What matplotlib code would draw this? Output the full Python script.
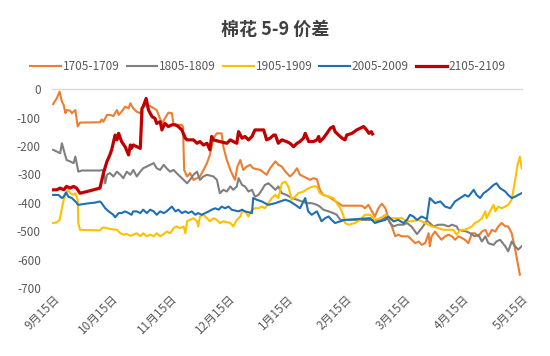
import matplotlib
matplotlib.use('Agg')
import matplotlib.pyplot as plt

plt.rcParams['font.family'] = ['Noto Sans CJK SC', 'DejaVu Sans']
plt.rcParams['axes.unicode_minus'] = False

# 月份位置: 0 = 9月15日 ... 8 = 5月15日
month_labels = ['9月15日', '10月15日', '11月15日', '12月15日', '1月15日',
                '2月15日', '3月15日', '4月15日', '5月15日']

x_1705 = [0.0, 0.06, 0.11, 0.15, 0.18, 0.21, 0.23, 0.29, 0.32, 0.38, 0.42, 0.46, 0.8, 0.83, 0.86,
          0.92, 0.97, 1.03, 1.09, 1.12, 1.17, 1.23, 1.29, 1.32, 1.37, 1.43, 1.49, 1.54, 1.66, 1.77,
          1.86, 1.97, 2.03, 2.06, 2.2, 2.22, 2.24, 2.29, 2.34, 2.4, 2.46, 2.51, 2.57, 2.63, 2.68,
          2.74, 2.8, 2.88, 2.91, 2.97, 3.03, 3.08, 3.11, 3.15, 3.2, 3.25, 3.31, 3.37, 3.42, 3.54,
          3.65, 3.71, 3.8, 3.85, 3.91, 3.97, 4.05, 4.11, 4.17, 4.22, 4.28, 4.34, 4.39, 4.45, 4.51,
          4.56, 4.62, 4.71, 4.79, 4.88, 4.94, 5.28, 5.33, 5.39, 5.45, 5.5, 5.56, 5.62, 5.68, 5.73,
          5.79, 5.85, 5.9, 5.96, 6.07, 6.13, 6.19, 6.25, 6.3, 6.36, 6.42, 6.44, 6.47, 6.53, 6.59,
          6.64, 6.7, 6.76, 6.82, 6.87, 6.93, 6.99, 7.04, 7.1, 7.16, 7.21, 7.27, 7.33, 7.39, 7.44,
          7.5, 7.56, 7.61, 7.67, 7.73, 7.78, 7.84, 7.9, 7.98]
y_1705 = [-52, -32, -8, -43, -55, -84, -73, -75, -84, -73, -131, -117, -116, -106, -114,
          -90, -90, -94, -73, -90, -79, -61, -67, -49, -67, -79, -84, -55, -59, -73,
          -120, -82, -84, -125, -125, -131, -284, -307, -295, -319, -313, -307, -284, -260, -231,
          -172, -155, -155, -202, -249, -284, -307, -319, -272, -249, -284, -272, -266, -278, -284,
          -301, -278, -254, -266, -272, -290, -307, -295, -278, -301, -307, -313, -319, -313, -317,
          -354, -372, -378, -389, -401, -410, -410, -419, -407, -430, -448, -419, -403, -419, -454,
          -483, -518, -512, -518, -518, -530, -542, -536, -548, -542, -507, -553, -518, -501, -518,
          -530, -518, -512, -518, -530, -518, -524, -530, -542, -507, -507, -518, -501, -495, -518,
          -495, -501, -483, -471, -483, -483, -507, -565, -653]

x_1805 = [0.0, 0.06, 0.12, 0.15, 0.18, 0.23, 0.29, 0.35, 0.38, 0.43, 0.49, 0.8, 0.86, 0.89, 0.92,
          0.97, 1.03, 1.09, 1.15, 1.2, 1.26, 1.32, 1.37, 1.43, 1.49, 1.54, 1.6, 1.66, 1.72, 1.77,
          1.83, 1.89, 1.94, 2.0, 2.06, 2.11, 2.17, 2.23, 2.29, 2.34, 2.4, 2.46, 2.51, 2.57, 2.63,
          2.74, 2.8, 2.85, 2.91, 2.97, 3.03, 3.08, 3.14, 3.17, 3.23, 3.28, 3.34, 3.4, 3.45, 3.51,
          3.57, 3.62, 3.68, 3.74, 3.8, 3.85, 3.91, 3.99, 4.08, 4.17, 4.25, 4.34, 4.42, 4.51, 4.56,
          4.62, 4.71, 4.79, 4.85, 4.91, 5.5, 5.53, 5.62, 5.7, 5.76, 5.82, 5.9, 5.99, 6.05, 6.13,
          6.22, 6.3, 6.39, 6.44, 6.5, 6.59, 6.67, 6.76, 6.82, 6.9, 6.93, 7.07, 7.13, 7.21, 7.27,
          7.33, 7.39, 7.44, 7.53, 7.58, 7.64, 7.73, 7.78, 7.84, 7.9, 7.95, 8.01]
y_1805 = [-213, -219, -225, -190, -213, -249, -254, -260, -237, -290, -286, -286, -284, -331, -301,
          -295, -307, -290, -301, -313, -290, -301, -284, -307, -290, -278, -272, -266, -260, -278,
          -284, -266, -278, -290, -284, -295, -307, -319, -331, -319, -301, -290, -319, -307, -301,
          -307, -319, -366, -354, -360, -342, -354, -342, -313, -337, -342, -360, -354, -378, -372,
          -354, -337, -331, -342, -354, -342, -366, -372, -383, -389, -395, -401, -401, -407, -413,
          -424, -430, -436, -442, -460, -460, -465, -460, -448, -471, -483, -477, -477, -471, -484,
          -510, -490, -462, -471, -483, -477, -477, -483, -477, -483, -495, -501, -507, -518, -512,
          -536, -518, -542, -548, -536, -530, -553, -571, -536, -553, -565, -553]

x_1905 = [0.0, 0.06, 0.11, 0.15, 0.18, 0.22, 0.26, 0.29, 0.35, 0.38, 0.42, 0.43, 0.46, 0.8, 0.83,
          0.86, 0.92, 0.97, 1.09, 1.15, 1.2, 1.26, 1.32, 1.37, 1.43, 1.49, 1.54, 1.6, 1.66, 1.72,
          1.77, 1.83, 1.89, 1.94, 2.0, 2.06, 2.11, 2.17, 2.23, 2.26, 2.29, 2.34, 2.4, 2.46, 2.48,
          2.51, 2.57, 2.63, 2.68, 2.74, 2.8, 2.85, 2.91, 3.03, 3.08, 3.14, 3.2, 3.23, 3.28, 3.34,
          3.4, 3.45, 3.51, 3.57, 3.62, 3.68, 3.74, 3.8, 3.85, 3.91, 3.97, 4.02, 4.08, 4.14, 4.19,
          4.28, 4.37, 4.45, 4.51, 4.56, 4.62, 4.71, 4.79, 4.85, 4.91, 4.96, 4.99, 5.05, 5.16, 5.25,
          5.33, 5.42, 5.5, 5.59, 5.68, 5.76, 5.96, 6.05, 6.13, 6.25, 6.36, 6.47, 6.59, 6.67, 6.84,
          6.9, 6.96, 7.04, 7.1, 7.16, 7.21, 7.27, 7.33, 7.39, 7.41, 7.47, 7.53, 7.56, 7.61, 7.67,
          7.73, 7.78, 7.84, 7.87, 7.9, 7.94, 7.98, 8.01]
y_1905 = [-471, -469, -460, -419, -389, -366, -354, -366, -372, -366, -389, -471, -495, -497, -489,
          -487, -489, -492, -495, -507, -512, -510, -516, -512, -507, -518, -507, -518, -512, -518,
          -507, -518, -510, -501, -507, -489, -483, -489, -483, -507, -465, -460, -454, -465, -483,
          -448, -442, -454, -465, -454, -460, -471, -465, -471, -483, -460, -448, -430, -430, -448,
          -424, -419, -419, -413, -419, -401, -383, -372, -383, -331, -325, -342, -389, -378, -366,
          -360, -348, -342, -342, -366, -372, -378, -383, -401, -419, -442, -471, -477, -471, -460,
          -442, -442, -460, -454, -442, -454, -454, -465, -465, -460, -471, -483, -489, -495, -495,
          -512, -495, -495, -489, -483, -471, -465, -454, -430, -454, -430, -407, -430, -413, -419,
          -413, -407, -389, -354, -319, -266, -237, -278]

x_2005 = [0.0, 0.09, 0.15, 0.18, 0.22, 0.26, 0.32, 0.38, 0.43, 0.52, 0.63, 0.72, 0.8, 0.83, 0.89,
          0.95, 1.03, 1.06, 1.12, 1.17, 1.23, 1.29, 1.34, 1.37, 1.43, 1.49, 1.54, 1.6, 1.66, 1.72,
          1.77, 1.83, 1.89, 1.94, 2.03, 2.09, 2.14, 2.2, 2.26, 2.31, 2.37, 2.43, 2.48, 2.54, 2.6,
          2.66, 2.71, 2.77, 2.83, 2.88, 2.94, 3.0, 3.05, 3.17, 3.23, 3.28, 3.4, 3.42, 3.48, 3.57,
          3.62, 3.68, 3.8, 3.88, 3.97, 4.05, 4.14, 4.22, 4.31, 4.36, 4.42, 4.51, 4.59, 4.65, 4.71,
          4.76, 4.82, 4.91, 4.99, 5.42, 5.5, 5.59, 5.68, 5.73, 5.82, 5.9, 5.99, 6.05, 6.1, 6.16,
          6.22, 6.3, 6.39, 6.44, 6.53, 6.62, 6.7, 6.79, 6.87, 6.96, 7.04, 7.1, 7.19, 7.24, 7.3,
          7.36, 7.44, 7.53, 7.58, 7.64, 7.73, 7.78, 7.84, 7.9, 7.95, 8.01]
y_2005 = [-372, -372, -383, -378, -363, -378, -383, -395, -407, -404, -401, -399, -395, -401, -419,
          -430, -442, -451, -436, -436, -430, -436, -442, -430, -430, -436, -424, -436, -424, -430,
          -442, -430, -436, -430, -413, -430, -424, -436, -430, -436, -430, -442, -436, -442, -436,
          -430, -424, -419, -424, -413, -419, -413, -424, -430, -424, -430, -436, -383, -389, -395,
          -401, -407, -401, -395, -389, -395, -407, -419, -383, -430, -442, -430, -465, -454, -448,
          -460, -471, -465, -460, -454, -471, -465, -460, -448, -465, -460, -471, -460, -442, -448,
          -460, -448, -457, -383, -401, -395, -413, -419, -395, -383, -372, -378, -354, -372, -383,
          -366, -354, -337, -331, -348, -360, -372, -383, -378, -372, -366]

x_2105 = [0.0, 0.06, 0.12, 0.18, 0.23, 0.29, 0.35, 0.4, 0.46, 0.58, 0.69, 0.8, 0.86, 0.92, 0.97,
          1.0, 1.06, 1.09, 1.12, 1.17, 1.23, 1.29, 1.32, 1.34, 1.37, 1.43, 1.49, 1.52, 1.54, 1.59,
          1.63, 1.69, 1.74, 1.77, 1.83, 1.86, 1.91, 1.97, 2.03, 2.09, 2.14, 2.2, 2.26, 2.29, 2.4,
          2.46, 2.51, 2.57, 2.63, 2.68, 2.71, 2.74, 2.85, 2.97, 3.03, 3.08, 3.14, 3.17, 3.23, 3.28,
          3.34, 3.4, 3.45, 3.6, 3.65, 3.71, 3.77, 3.8, 3.85, 3.91, 3.99, 4.05, 4.11, 4.17, 4.22,
          4.28, 4.31, 4.37, 4.45, 4.51, 4.54, 4.56, 4.62, 4.68, 4.74, 4.79, 4.82, 4.88, 4.94, 4.99,
          5.02, 5.11, 5.19, 5.31, 5.36, 5.4, 5.44, 5.46]
y_2105 = [-354, -354, -348, -354, -342, -348, -342, -348, -366, -360, -354, -348, -295, -254, -231,
          -213, -161, -178, -155, -184, -202, -231, -196, -208, -196, -202, -208, -67, -61, -32,
          -73, -96, -102, -120, -114, -143, -120, -131, -125, -125, -131, -143, -172, -178, -178,
          -190, -184, -196, -190, -213, -166, -178, -184, -190, -178, -184, -190, -149, -172, -166,
          -178, -166, -143, -143, -178, -172, -161, -161, -190, -178, -184, -190, -202, -190, -184,
          -172, -155, -184, -184, -178, -166, -184, -172, -155, -137, -131, -149, -161, -172, -178,
          -161, -155, -143, -131, -143, -155, -149, -157]

series = [
    ('1705-1709', x_1705, y_1705, '#ED7D31', 1.5),
    ('1805-1809', x_1805, y_1805, '#7F7F7F', 1.5),
    ('1905-1909', x_1905, y_1905, '#FFC000', 1.5),
    ('2005-2009', x_2005, y_2005, '#1F6FB5', 1.5),
    ('2105-2109', x_2105, y_2105, '#C00000', 2.3),
]

fig = plt.figure(figsize=(5.5, 3.56), dpi=100)
ax = fig.add_axes([0.0945, 0.191, 0.855, 0.558])

for name, xs, ys, color, lw in series:
    ax.plot(xs, ys, color=color, lw=lw, label=name, solid_joinstyle='round')

ax.set_xlim(-0.02, 8.02)
ax.set_ylim(-700, 0)
ax.set_yticks(range(-700, 1, 100))
ax.set_yticklabels([str(v) for v in range(-700, 1, 100)])
ax.set_xticks(range(len(month_labels)))
ax.set_xticklabels(month_labels, rotation=45, ha='right', rotation_mode='anchor')

for s in ['left', 'right', 'bottom']:
    ax.spines[s].set_visible(False)
ax.spines['top'].set_color('#D9D9D9')
ax.spines['top'].set_linewidth(1.0)
ax.tick_params(axis='both', length=0, colors='#595959', labelsize=8.5)
ax.tick_params(axis='y', pad=8)
ax.tick_params(axis='x', pad=3)

fig.suptitle('棉花 5-9 价差', x=0.5, y=0.945, fontsize=13, fontweight='bold', color='#404040')
fig.legend(loc='center', bbox_to_anchor=(0.487, 0.812), ncol=5, frameon=False,
           fontsize=8.5, handlelength=2.6, handletextpad=0.15, columnspacing=0.6,
           labelcolor='#595959')

fig.savefig('out.png', dpi=100, facecolor='white')
